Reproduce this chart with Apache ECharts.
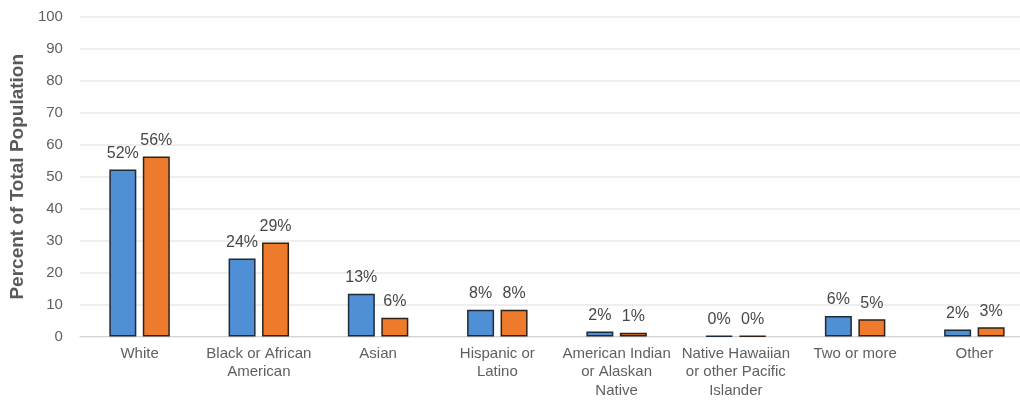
<!DOCTYPE html>
<html>
<head>
<meta charset="utf-8">
<script src="https://cdn.jsdelivr.net/npm/echarts@6/dist/echarts.min.js"></script>
<style>html,body{margin:0;padding:0;background:#fff;overflow:hidden;width:1020px;height:400px}#c{width:1040px;height:400px}</style>
</head>
<body>
<div id="c"></div>
<script>
const categories = ["White", "Black or African\nAmerican", "Asian", "Hispanic or\nLatino", "American Indian\nor Alaskan\nNative", "Native Hawaiian\nor other Pacific\nIslander", "Two or more", "Other"];
const seriesA = [52.3, 24.4, 13.4, 8.4, 1.6, 0.2, 6.4, 2.2];
const seriesB = [56.3, 29.4, 5.9, 8.4, 1.2, 0.2, 5.4, 2.9];
const yTicks = [0, 10, 20, 30, 40, 50, 60, 70, 80, 90, 100];
const yAxisTitle = "Percent of Total Population";

const chart = echarts.init(document.getElementById('c'), null, {renderer: 'canvas'});
const font = "'Liberation Sans', Arial, sans-serif";
const labelCfg = {
  show: true, position: 'top', distance: 8,
  fontFamily: font, fontSize: 16, color: '#474747',
  formatter: p => Math.round(p.value) + '%'
};
chart.setOption({
  animation: false,
  textStyle: {fontFamily: font},
  grid: {left: 79, width: 955, top: 17, bottom: 63, containLabel: false},
  xAxis: {
    type: 'category', data: categories,
    axisLine: {lineStyle: {color: '#d4d4d4', width: 1}},
    axisTick: {show: false},
    axisLabel: {interval: 0, fontFamily: font, fontSize: 15, color: '#5f5f5f', lineHeight: 18.5, margin: 8}
  },
  yAxis: {
    type: 'value', min: yTicks[0], max: yTicks[yTicks.length - 1], interval: 10,
    name: yAxisTitle, nameLocation: 'middle', nameGap: 52, nameRotate: 90,
    nameTextStyle: {fontFamily: font, fontSize: 19, fontWeight: 'bold', color: '#5a5a5a'},
    axisLine: {show: false}, axisTick: {show: false},
    axisLabel: {fontFamily: font, fontSize: 15, color: '#5f5f5f', margin: 17},
    splitLine: {lineStyle: {color: '#e8e8e8', width: 1.5}}
  },
  series: [
    {type: 'bar', data: seriesA, barWidth: 27, barGap: '24%',
     itemStyle: {color: '#4e8fd6', borderColor: '#1e2a36', borderWidth: 1.5},
     label: labelCfg},
    {type: 'bar', data: seriesB, barWidth: 27,
     itemStyle: {color: '#ee7b2c', borderColor: '#2e2218', borderWidth: 1.5},
     label: labelCfg}
  ]
});
</script>
</body>
</html>
